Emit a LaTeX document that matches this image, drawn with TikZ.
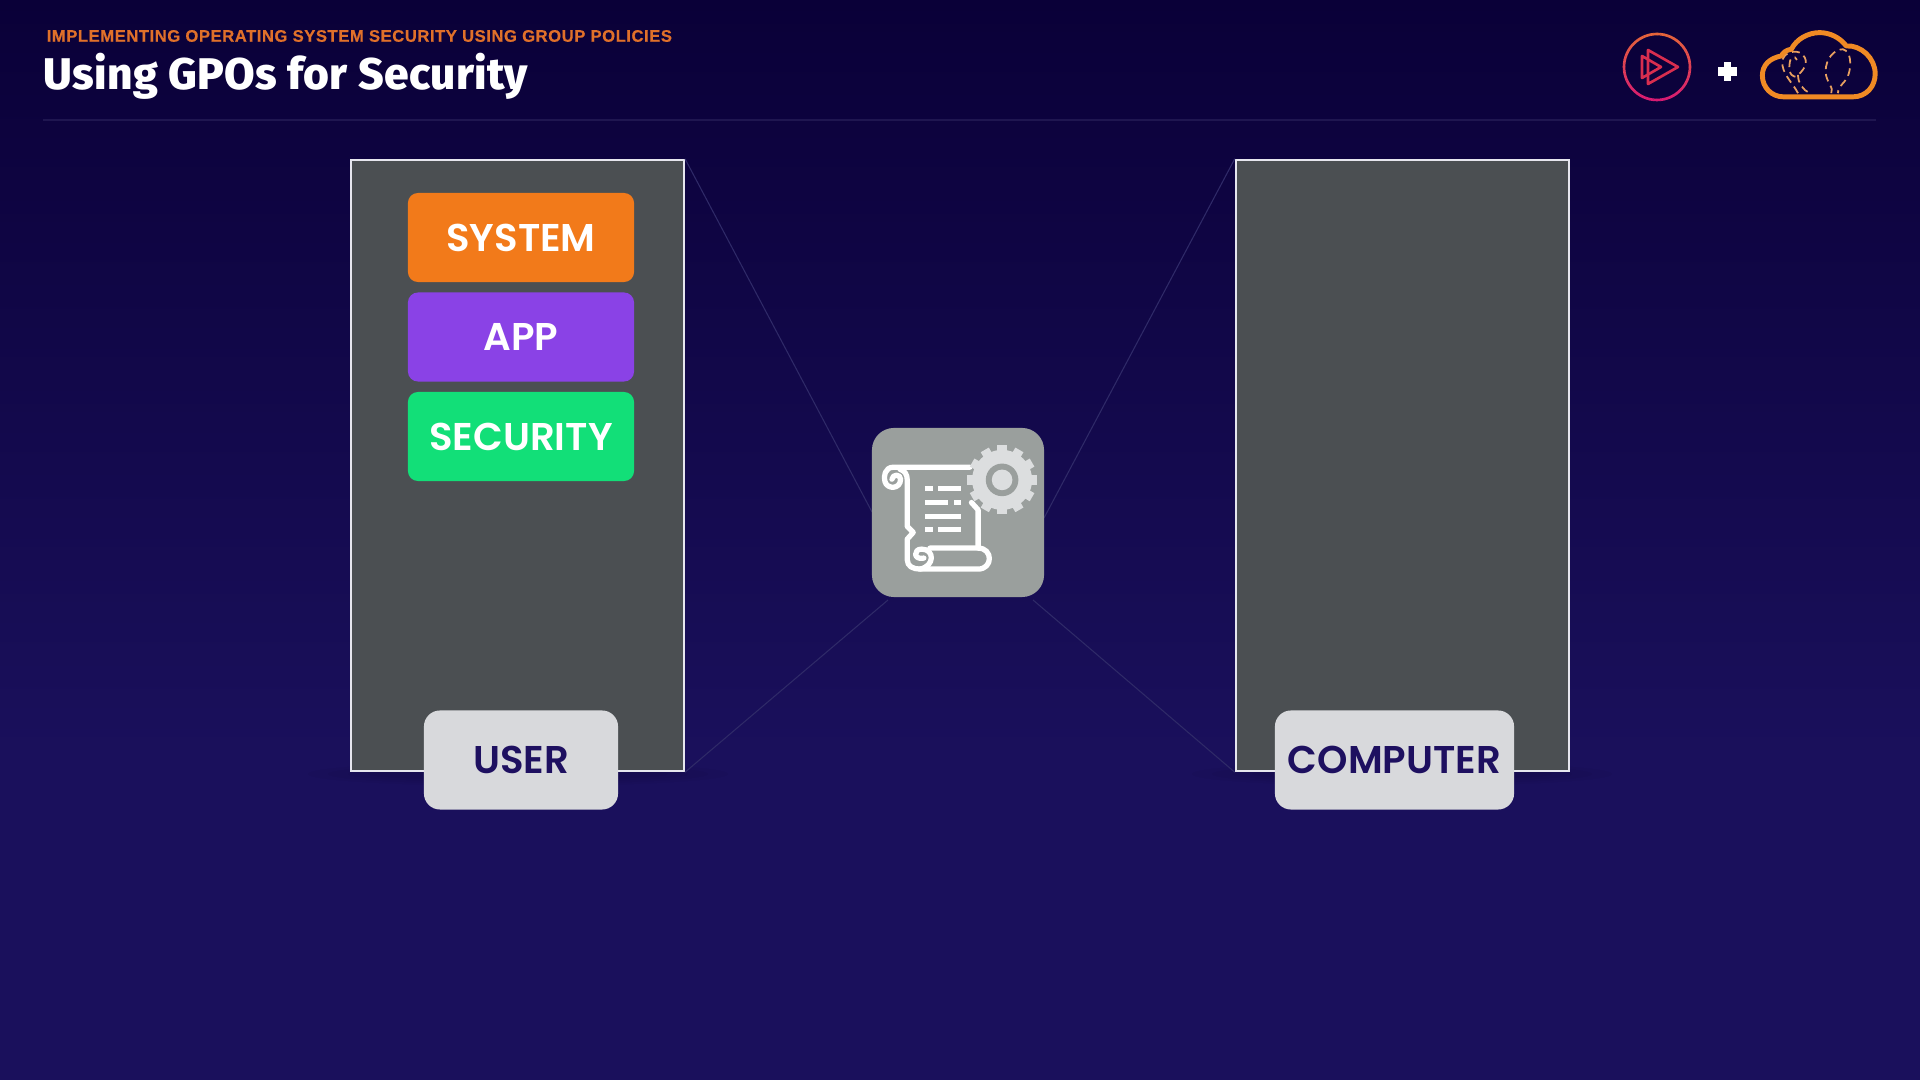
\documentclass[tikz,border=0pt]{standalone}
\usepackage{fontspec}
\newfontfamily\headfont{Liberation Sans}
\newfontfamily\titlefont[LetterSpace=0.8]{Fira Sans ExtraBold}
\newfontfamily\boxfont[BoldFont={Poppins SemiBold}]{Poppins}
\definecolor{bgtop}{HTML}{0A0038}
\definecolor{bgbottom}{HTML}{1A105C}
\definecolor{rulecol}{HTML}{1F1650}
\definecolor{wirecol}{HTML}{2F2A68}
\definecolor{panelcol}{HTML}{4B4F52}
\definecolor{panelline}{HTML}{E6E6EE}
\definecolor{subtitlecol}{HTML}{E0702A}
\definecolor{systemcol}{HTML}{F27A1A}
\definecolor{appcol}{HTML}{8A42E6}
\definecolor{securitycol}{HTML}{12DF78}
\definecolor{tagcol}{HTML}{D8D9DC}
\definecolor{tagtext}{HTML}{1E1060}
\definecolor{iconbox}{HTML}{9A9F9D}
\definecolor{gearcol}{HTML}{DCDEDF}
\definecolor{cloudcol}{HTML}{F08A24}
\definecolor{dashcol}{HTML}{E8A060}
\definecolor{pstop}{HTML}{E5653A}
\definecolor{psbottom}{HTML}{D81B72}
\definecolor{pstri}{HTML}{D92E4F}
\tikzset{
  panelbox/.style={draw=panelline,line width=0.6pt,fill=panelcol,minimum width=3.325cm,minimum height=6.11cm,inner sep=0pt},
  logbox/.style={rounded corners=0.1cm,minimum width=2.26cm,minimum height=0.89cm,inner sep=0pt,text=white,font=\boxfont\bfseries\fontsize{11pt}{12pt}\selectfont},
  tagbox/.style={rounded corners=0.16cm,fill=tagcol,minimum height=0.99cm,inner sep=0pt,text=tagtext,font=\boxfont\bfseries\fontsize{11pt}{12pt}\selectfont},
  wire/.style={draw=wirecol,line width=0.3pt},
  scrollline/.style={draw=white,line width=1.5pt,line cap=round,line join=round}
}
\begin{document}
\begin{tikzpicture}[x=0.01cm,y=-0.01cm]
  \useasboundingbox (0,0) rectangle (1920,1080);
  % background
  \fill[top color=bgtop,bottom color=bgbottom] (0,0) rectangle (1920,760);
  \fill[bgbottom] (0,759) rectangle (1920,1080);
  % header
  \node[anchor=west,inner sep=0pt,text=subtitlecol] (subtitle) at (46,36)
    {\headfont\bfseries\fontsize{4.75pt}{6pt}\selectfont\addfontfeature{LetterSpace=3,FakeBold=0.3}IMPLEMENTING OPERATING SYSTEM SECURITY USING GROUP POLICIES};
  \node[anchor=west,inner sep=0pt,text=white] (title) at (43,76.5)
    {\titlefont\fontsize{12.6pt}{14pt}\selectfont Using GPOs for Security};
  \coordinate (rulea) at (43,120);
  \coordinate (ruleb) at (1876,120);
  \draw[rulecol,line width=0.6pt] (rulea) -- (ruleb);
  % soft shadows under the panels
  \foreach \cx in {518,1402} \foreach \rx/\ry in {210/12,190/10,170/8,150/6}
    \fill[black,opacity=0.03] (\cx,774) ellipse ({\rx} and {\ry});
  % panels
  \node[panelbox] (userpanel) at (517.6,465.5) {};
  \node[panelbox] (computerpanel) at (1402.2,465.5) {};
  % wires
  \coordinate (gpoa) at (872,512);
  \coordinate (gpob) at (1044,518);
  \coordinate (gpoc) at (888,600);
  \coordinate (gpod) at (1033,600);
  \draw[wire] (userpanel.north east) -- (gpoa);
  \draw[wire] (userpanel.south east) -- (gpoc);
  \draw[wire] (computerpanel.north west) -- (gpob);
  \draw[wire] (computerpanel.south west) -- (gpod);
  % log boxes
  \node[logbox,fill=systemcol] (system) at (521,237.5) {SYSTEM};
  \node[logbox,fill=appcol] (app) at (521,337) {APP};
  \node[logbox,fill=securitycol] (security) at (521,436.5) {SECURITY};
  % tags
  \node[tagbox,minimum width=1.94cm] (user) at (521,760) {USER};
  \node[tagbox,minimum width=2.39cm] (computer) at (1394.5,760) {COMPUTER};
  % policy icon
  \node[fill=iconbox,rounded corners=0.22cm,minimum width=1.72cm,minimum height=1.69cm,inner sep=0pt] (gpoicon) at (958,512.5) {};
  \begin{scope}[shift={(850,410)},x=0.00333cm,y=-0.00333cm]
    \draw[scrollline] (360,172) -- (130,172) .. controls (105,172) and (100,200) .. (105,215)
      .. controls (112,240) and (152,238) .. (152,208) .. controls (152,192) and (128,192) .. (126,208);
    \draw[scrollline] (150,178) .. controls (165,182) and (172,195) .. (172,210) -- (172,350) -- (190,368) -- (172,388) -- (172,450)
      .. controls (172,470) and (190,478) .. (210,478) -- (385,478)
      .. controls (430,478) and (430,415) .. (385,415) -- (240,415);
    \draw[scrollline] (210,478) .. controls (255,470) and (255,418) .. (215,418)
      .. controls (190,418) and (190,452) .. (222,445);
    \draw[scrollline] (385,415) -- (385,300) -- (365,278);
    \draw[scrollline,line cap=butt] (225,237) -- (248,237) (265,237) -- (335,237);
    \draw[scrollline,line cap=butt] (225,278) -- (295,278) (312,278) -- (335,278);
    \draw[scrollline,line cap=butt] (225,320) -- (335,320);
    \draw[scrollline,line cap=butt] (225,360) -- (248,360) (265,360) -- (335,360);
    \begin{scope}[shift={(457,210)}]
      \fill[gearcol] (0,0) circle (90);
      \foreach \a in {0,30,...,330}
        \fill[gearcol,rotate=\a] (80,-14) rectangle (104,14);
      \fill[iconbox] (0,0) circle (49);
      \fill[gearcol] (0,0) circle (31);
    \end{scope}
  \end{scope}
  % pluralsight mark
  \begin{scope}[shift={(1657,67)}]
    \foreach \a in {0,6,...,354} {
      \pgfmathsetmacro{\mixval}{50*(1+sin(\a+3))}
      \draw[psbottom!\mixval!pstop,line width=0.75pt] (\a:33) arc (\a:\a+6.5:33);
    }
    \draw[pstri,line width=0.75pt,line join=round] (-9,-17) -- (21,0) -- (-9,17) -- cycle;
    \draw[pstri,line width=0.75pt,line join=round] (-15,-11) -- (4,0) -- (-15,11) -- cycle;
  \end{scope}
  % plus
  \fill[white] (1717.5,67.5) rectangle (1736.5,76);
  \fill[white] (1723.5,62) rectangle (1730.5,81);
  % cloud
  \begin{scope}[shift={(1580,10)},x=0.00333cm,y=-0.00333cm]
    \draw[dashcol,line width=0.5pt,dash pattern=on 2.2pt off 1.4pt]
      (655,250) .. controls (640,220) and (605,190) .. (608,155) .. controls (610,130) and (640,120) .. (660,128)
      .. controls (690,145) and (680,175) .. (655,195) .. controls (640,210) and (625,190) .. (630,160)
      .. controls (632,140) and (645,135) .. (652,150)
      (655,195) .. controls (655,220) and (670,240) .. (690,250);
    \draw[dashcol,line width=0.5pt,dash pattern=on 2.2pt off 1.4pt]
      (755,250) .. controls (765,235) and (738,215) .. (738,185) .. controls (738,145) and (765,118) .. (790,118)
      .. controls (815,125) and (815,165) .. (808,190) .. controls (800,220) and (775,225) .. (775,250);
    \draw[cloudcol,line width=1.4pt,line join=round]
      (612,261) -- (820,261) .. controls (860,261) and (887,230) .. (887,192)
      .. controls (887,145) and (845,105) .. (800,108) .. controls (780,82) and (750,68) .. (720,68)
      .. controls (685,68) and (650,88) .. (635,118) .. controls (620,120) and (610,128) .. (605,138)
      .. controls (570,145) and (548,165) .. (548,197) .. controls (548,232) and (575,261) .. (612,261) -- cycle;
  \end{scope}
\end{tikzpicture}
\end{document}
